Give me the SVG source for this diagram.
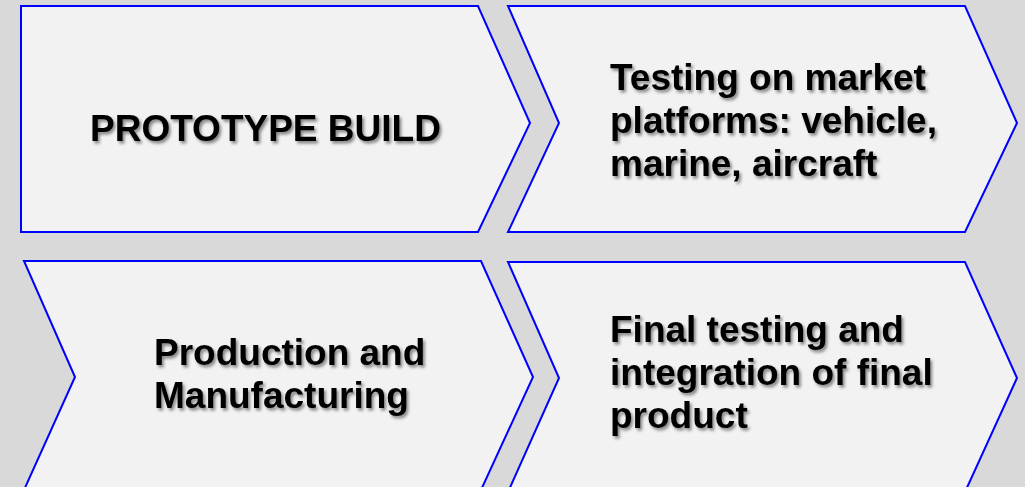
<svg xmlns="http://www.w3.org/2000/svg" width="1025" height="487" viewBox="0 0 1025 487">
  <defs>
    <filter id="txtShadow" x="-5%" y="-20%" width="110%" height="140%">
      <feDropShadow dx="2" dy="2.5" stdDeviation="1.4" flood-color="#000" flood-opacity="0.45"/>
    </filter>
  </defs>
  <style>
    .step { fill: #f2f2f2; stroke: #0000ff; stroke-width: 2; stroke-linejoin: miter; }
    .label { font-family: "Liberation Sans", Arial, sans-serif; font-weight: bold; font-size: 37px; fill: #000; filter: url(#txtShadow); }
  </style>

  <!-- background -->
  <rect x="0" y="0" width="1025" height="487" fill="#d9d9d9"/>

  <g id="connectors"></g>

  <!-- step 1: pentagon arrow -->
  <g id="prototype-build">
    <polygon class="step" points="21,6 478,6 530,123 478,232 21,232"/>
    <text class="label" x="90" y="141">PROTOTYPE BUILD</text>
  </g>

  <!-- step 2: chevron -->
  <g id="market-testing">
    <polygon class="step" points="508,6 965,6 1017,123 965,232 508,232 559,123"/>
    <text class="label" x="610" y="90">Testing on market</text>
    <text class="label" x="610" y="133">platforms: vehicle,</text>
    <text class="label" x="610" y="176">marine, aircraft</text>
  </g>

  <!-- step 3: chevron (lower row) -->
  <g id="production">
    <polygon class="step" points="24,261 481,261 533,377 481,490 24,490 75,377"/>
    <text class="label" x="154" y="365">Production and</text>
    <text class="label" x="154" y="408">Manufacturing</text>
  </g>

  <!-- step 4: chevron (lower row) -->
  <g id="final-testing">
    <polygon class="step" points="508,262 965,262 1017,378 965,492 508,492 559,378"/>
    <text class="label" x="610" y="342">Final testing and</text>
    <text class="label" x="610" y="385">integration of final</text>
    <text class="label" x="610" y="428">product</text>
  </g>
</svg>
